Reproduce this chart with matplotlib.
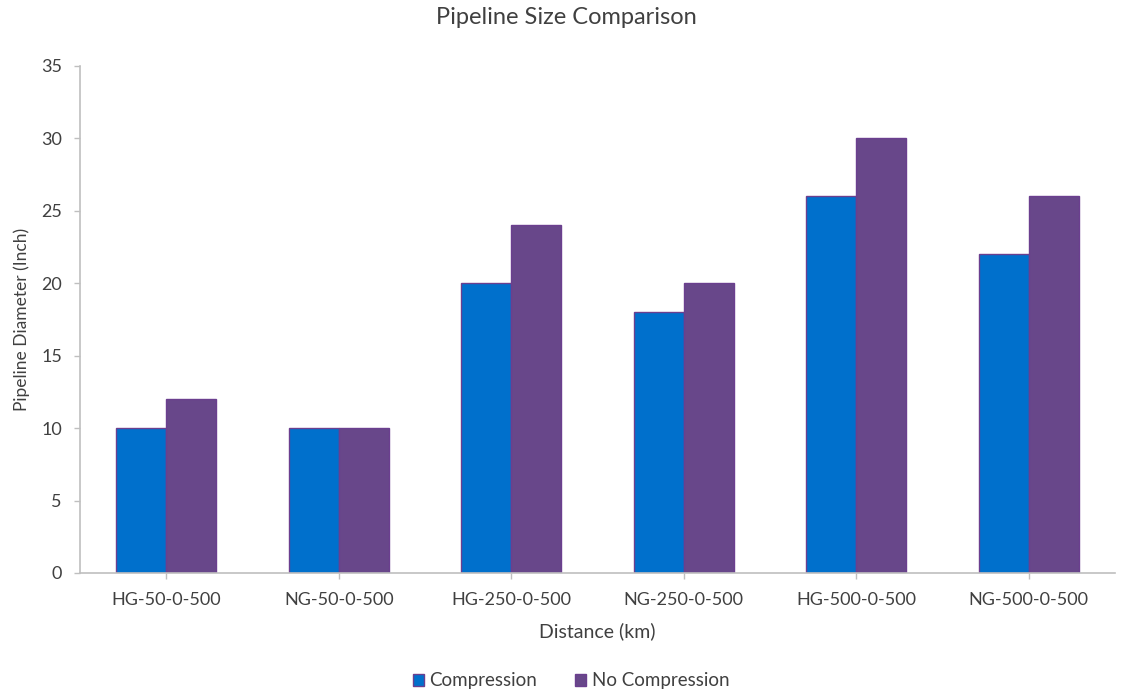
import matplotlib
matplotlib.use("Agg")
import matplotlib.pyplot as plt
import numpy as np

# data
categories = ["HG-50-0-500", "NG-50-0-500", "HG-250-0-500",
              "NG-250-0-500", "HG-500-0-500", "NG-500-0-500"]
compression = [10, 10, 20, 18, 26, 22]
no_compression = [12, 10, 24, 20, 30, 26]

BLUE = "#0070CC"
PURPLE = "#68478A"
EDGE = "#6B3F8F"
TEXT = "#404040"
AXIS = "#BFBFBF"

plt.rcParams["font.family"] = ["Lato", "DejaVu Sans"]

fig = plt.figure(figsize=(11.33, 6.91), dpi=100)
ax = fig.add_axes([0.0706, 0.1708, 0.9134, 0.7337])

x = np.arange(len(categories))
w = 0.29
ax.bar(x - w / 2, compression, w, color=BLUE, edgecolor=EDGE, linewidth=1, label="Compression")
ax.bar(x + w / 2, no_compression, w, color=PURPLE, edgecolor=EDGE, linewidth=1, label="No Compression")

ax.set_xlim(-0.5, len(categories) - 0.5)
ax.set_ylim(0, 35)
ax.set_yticks(range(0, 36, 5))
ax.set_xticks(x)
ax.set_xticklabels(categories)

for s in ("top", "right"):
    ax.spines[s].set_visible(False)
for s in ("left", "bottom"):
    ax.spines[s].set_color(AXIS)
    ax.spines[s].set_linewidth(1.2)
ax.tick_params(axis="both", colors=AXIS, labelcolor=TEXT, labelsize=13, length=4, width=1)
ax.tick_params(axis="y", pad=9)
ax.tick_params(axis="x", pad=10)

ax.set_ylabel("Pipeline Diameter (Inch)", fontsize=12.5, color=TEXT, labelpad=8)
ax.set_xlabel("Distance (km)", fontsize=14, color=TEXT, labelpad=10)
fig.suptitle("Pipeline Size Comparison", fontsize=17, color=TEXT, y=0.99)

fig.legend(loc="lower center", ncol=2, frameon=False, fontsize=13.5,
           bbox_to_anchor=(0.504, -0.022), handlelength=0.6, handleheight=0.6,
           handletextpad=0.3, columnspacing=2.0, labelcolor=TEXT)

fig.savefig("out.png", dpi=100)
